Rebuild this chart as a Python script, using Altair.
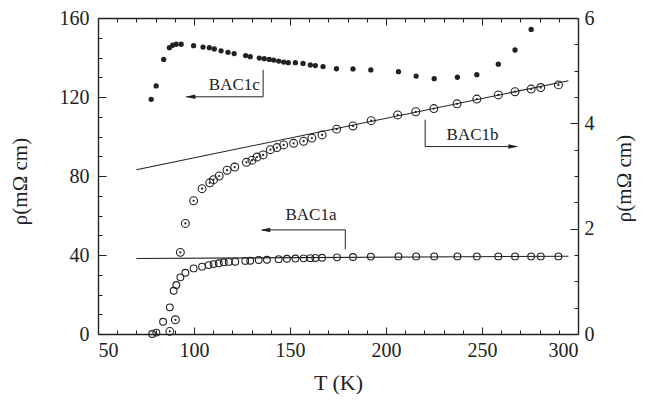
import altair as alt
import pandas as pd

# ---------------- data ----------------
# BAC1c : filled dots, left axis (mOhm cm)
c_T = [77.7, 80.3, 84.2, 87.2, 88.9, 90.7, 93.3, 99.8, 104.7, 108.0, 110.6, 114.1, 117.7,
       120.9, 126.9, 129.3, 134.0, 136.6, 139.2, 141.5, 144.1, 146.7, 149.1, 152.8, 156.8,
       160.6, 163.2, 167.2, 174.2, 182.8, 192.1, 206.5, 215.7, 225.1, 237.2, 247.3, 258.5,
       267.2, 275.6]
c_rho = [118.8, 125.6, 139.0, 145.0, 146.2, 146.7, 146.7, 146.0, 145.3, 145.0, 144.3, 143.4,
         142.6, 142.0, 141.0, 140.4, 139.7, 139.4, 139.0, 138.7, 138.2, 137.7, 137.4, 137.4,
         137.0, 136.2, 135.9, 135.4, 134.3, 134.2, 133.7, 132.8, 130.6, 129.3, 130.0, 131.3,
         136.6, 143.8, 154.2]

# BAC1b : dotted circles, right axis (mOhm cm)
b_T = [87.4, 90.3, 92.9, 95.5, 99.8, 104.2, 108.2, 110.2, 113.1, 117.2, 121.2, 127.3, 130.2,
       132.8, 136.0, 139.8, 143.2, 146.7, 151.9, 157.1, 161.4, 166.7, 174.3, 182.8, 192.3,
       206.1, 215.5, 224.9, 237.0, 247.3, 258.5, 267.2, 275.6, 280.6, 289.8]
b_rho = [0.05, 0.27, 1.55, 2.10, 2.53, 2.76, 2.87, 2.93, 3.00, 3.11, 3.17, 3.26, 3.30, 3.36,
         3.40, 3.50, 3.54, 3.59, 3.62, 3.66, 3.72, 3.78, 3.89, 3.95, 4.05, 4.16, 4.22, 4.28,
         4.37, 4.46, 4.54, 4.60, 4.65, 4.68, 4.73]

# BAC1a : open circles, left axis (mOhm cm)
a_T = [78.2, 80.4, 83.9, 87.4, 89.4, 90.8, 92.9, 95.5, 99.8, 104.2, 107.6, 110.2, 112.9,
       115.5, 118.1, 121.5, 126.7, 129.3, 133.7, 138.0, 144.1, 148.4, 152.8, 157.1, 160.6,
       163.2, 166.7, 174.5, 182.8, 192.1, 206.5, 215.7, 225.1, 237.2, 247.3, 258.5, 267.2,
       275.6, 280.6, 289.8]
a_rho = [0.0, 0.7, 6.2, 13.5, 21.9, 24.8, 28.7, 31.0, 33.2, 34.1, 34.9, 35.4, 35.8, 36.3,
         36.5, 36.6, 37.0, 37.1, 37.5, 37.6, 37.9, 38.1, 38.2, 38.3, 38.4, 38.5, 38.6, 38.8,
         39.0, 39.2, 39.3, 39.3, 39.3, 39.3, 39.3, 39.3, 39.3, 39.3, 39.3, 39.3]

# straight-line fits
fit_a_T = [70.0, 295.0]
fit_a_rho = [38.2, 39.4]        # left axis
fit_b_T = [70.0, 295.0]
fit_b_rho = [3.12, 4.81]        # right axis

# annotation labels and arrows (left-axis units)
lab_text = ["BAC1c", "BAC1b", "BAC1a"]
lab_T = [121.0, 245.1, 160.9]
lab_rho = [126.2, 100.9, 60.3]

arr_id = ["c", "c", "c", "b", "b", "b", "a", "a", "a"]
arr_order = [0, 1, 2, 0, 1, 2, 0, 1, 2]
arr_T = [136.0, 136.0, 96.0, 220.4, 220.4, 268.0, 178.8, 178.8, 135.5]
arr_rho = [133.8, 120.1, 120.1, 108.5, 94.9, 94.9, 42.9, 52.7, 52.7]

tipL_T = [95.5, 134.5]
tipL_rho = [120.1, 52.7]
tipR_T = [268.9]
tipR_rho = [94.9]

# axis ticks
x_ticks = list(range(50, 301, 10))
yl_ticks = list(range(0, 161, 10))
yr_ticks = [i * 0.5 for i in range(0, 13)]

# ---------------- chart ----------------
INK = "#222222"
FONT = "Liberation Serif, Times New Roman, DejaVu Serif, serif"

df_c = pd.DataFrame({"T": c_T, "v": c_rho})
df_a = pd.DataFrame({"T": a_T, "v": a_rho})
df_b = pd.DataFrame({"T": b_T, "v": b_rho})
df_fa = pd.DataFrame({"T": fit_a_T, "v": fit_a_rho})
df_fb = pd.DataFrame({"T": fit_b_T, "v": fit_b_rho})
df_lab = pd.DataFrame({"T": lab_T, "v": lab_rho, "t": lab_text})
df_arr = pd.DataFrame({"T": arr_T, "v": arr_rho, "id": arr_id, "o": arr_order})
df_tl = pd.DataFrame({"T": tipL_T, "v": tipL_rho})
df_tr = pd.DataFrame({"T": tipR_T, "v": tipR_rho})

xscale = alt.Scale(domain=[50, 300], nice=False, zero=False)
xaxis_bottom = alt.Axis(
    orient="bottom", values=x_ticks,
    labelExpr="datum.value % 50 === 0 ? datum.label : ''",
    tickSize={"expr": "datum.value % 50 === 0 ? -7 : -4"},
    labelPadding=13, title="T (K)", titleFontSize=22, titleFontWeight="normal",
    titleY=48, titleBaseline="middle",
)
xaxis_top = alt.Axis(
    orient="top", values=x_ticks, labels=False, title=None,
    tickSize={"expr": "datum.value % 50 === 0 ? -7 : -4"},
)
X_bottom = alt.X("T:Q", scale=xscale, axis=xaxis_bottom)
X_top = alt.X("T:Q", scale=xscale, axis=xaxis_top)

yl_scale = alt.Scale(domain=[0, 160], nice=False)
yl_axis = alt.Axis(
    orient="left", values=yl_ticks, format="d",
    labelExpr="datum.value % 40 === 0 ? datum.label : ''",
    tickSize={"expr": "datum.value % 40 === 0 ? -8 : -4"},
    labelPadding=17, title="ρ(mΩ cm)", titleFontSize=21, titleFontWeight="normal",
    titleAngle=270, titleX=-78, titleY=163, titleAlign="center", titleBaseline="middle",
)
YL = alt.Y("v:Q", scale=yl_scale, axis=yl_axis)

yr_scale = alt.Scale(domain=[0, 6], nice=False)
yr_axis = alt.Axis(
    orient="right", values=yr_ticks, format="~g",
    labelExpr="datum.value % 2 === 0 ? datum.label : ''",
    tickSize={"expr": "datum.value % 2 === 0 ? -8 : -4"},
    labelPadding=14, title="ρ(mΩ cm)", titleFontSize=21, titleFontWeight="normal",
    titleAngle=270, titleX=46, titleY=160, titleAlign="center", titleBaseline="middle",
)
YR = alt.Y("v:Q", scale=yr_scale, axis=yr_axis)

# left-axis group
pts_c = alt.Chart(df_c).mark_point(filled=True, size=28, color=INK, opacity=1).encode(x=X_bottom, y=YL)
pts_a = alt.Chart(df_a).mark_point(filled=False, size=46, color=INK, strokeWidth=1.1, opacity=1).encode(x=X_bottom, y=YL)
line_a = alt.Chart(df_fa).mark_line(color=INK, strokeWidth=1.1).encode(x=X_bottom, y=YL)
arrows = alt.Chart(df_arr).mark_line(color=INK, strokeWidth=1).encode(
    x=X_bottom, y=YL, detail="id:N", order="o:Q")
tips_l = alt.Chart(df_tl).mark_point(
    shape="M0,0L2,-0.45L2,0.45Z", size=100, filled=True, color=INK, opacity=1
).encode(x=X_bottom, y=YL)
tips_r = alt.Chart(df_tr).mark_point(
    shape="M0,0L-2,-0.45L-2,0.45Z", size=100, filled=True, color=INK, opacity=1
).encode(x=X_bottom, y=YL)
labels = alt.Chart(df_lab).mark_text(
    font=FONT, fontSize=17, color=INK, align="center", baseline="middle"
).encode(x=X_bottom, y=YL, text="t:N")

left = alt.layer(line_a, pts_c, pts_a, arrows, tips_l, tips_r, labels)

# right-axis group
line_b = alt.Chart(df_fb).mark_line(color=INK, strokeWidth=1.1).encode(x=X_top, y=YR)
pts_b = alt.Chart(df_b).mark_point(filled=False, size=62, color=INK, strokeWidth=1.1, opacity=1).encode(x=X_top, y=YR)
dots_b = alt.Chart(df_b).mark_point(filled=True, size=5, color=INK, opacity=1).encode(x=X_top, y=YR)
right = alt.layer(line_b, pts_b, dots_b)

chart = (
    alt.layer(left, right)
    .resolve_scale(y="independent")
    .resolve_axis(x="independent", y="independent")
    .properties(
        width=480, height=316,
        autosize=alt.AutoSizeParams(type="none"),
        padding={"left": 90, "top": 10, "right": 60, "bottom": 60},
        background="white",
    )
    .configure_view(stroke=None)
    .configure_axis(
        labelFont=FONT, titleFont=FONT, labelFontSize=20, labelColor=INK, titleColor=INK,
        domainColor=INK, tickColor=INK, domainWidth=1.4, tickWidth=1, grid=False,
    )
)

chart.save("out.html", embed_options={"renderer": "svg", "actions": False})
